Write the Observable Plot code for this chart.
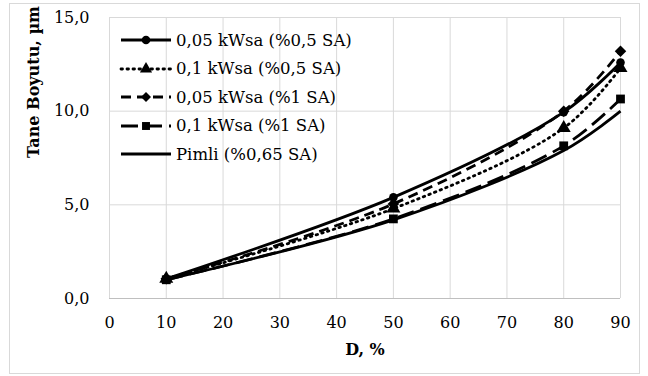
<!DOCTYPE html>
<html><head><meta charset="utf-8">
<script src="https://cdn.jsdelivr.net/npm/d3@7"></script>
<script src="https://cdn.jsdelivr.net/npm/@observablehq/plot@0.6"></script>
<style>
body{margin:0;background:#fff;}
#wrap{position:relative;width:648px;height:376px;font-family:"DejaVu Serif",serif;}
#border{position:absolute;left:9px;top:3px;width:631px;height:371px;border:1px solid #d9d9d9;box-sizing:border-box;pointer-events:none;}
#legend{position:absolute;left:118px;top:26px;font-size:16.5px;color:#000;}
#legend .row{display:flex;align-items:center;height:28.5px;}
#legend svg{width:56px;height:20px;margin-right:2px;}
</style></head>
<body><div id="wrap"><div id="border"></div><div id="legend"></div></div>
<script>
const dValues = [10, 50, 80, 90];
const seriesNames = ["0,05 kWsa (%0,5 SA)", "0,1 kWsa (%0,5 SA)", "0,05 kWsa (%1 SA)", "0,1 kWsa (%1 SA)", "Pimli (%0,65 SA)"];
const s1 = [1.05, 5.4, 9.95, 12.6];
const s2 = [1.05, 4.8, 9.1, 12.3];
const s3 = [1.05, 5.05, 10.0, 13.2];
const s4 = [1.0, 4.25, 8.15, 10.65];
const s5 = [1.0, 4.2, 7.9, 10.0];
const xTicks = [0,10,20,30,40,50,60,70,80,90];
const yTicks = [0,5,10,15];

const seriesVals = [s1,s2,s3,s4,s5];
const dashes = [null, "1.5,4.5", "10,6", "17,7", null];
const symbols = ["circle","triangle","diamond2","square2", null];
const symSizes = [4.3, 5.2, 5.2, 5.6, 0];

const data = [];
seriesNames.forEach((n,i)=>dValues.forEach((d,j)=>data.push({series:n, idx:i, d, v:seriesVals[i][j]})));
const fmt = v => v.toFixed(1).replace(".", ",");

const marks = [
  Plot.gridX(xTicks.slice(1), {stroke:"#d9d9d9", strokeOpacity:1, strokeWidth:1}),
  Plot.gridY(yTicks, {stroke:"#d9d9d9", strokeOpacity:1, strokeWidth:1}),
  Plot.ruleY([0], {stroke:"#bfbfbf", strokeWidth:1}),
  Plot.ruleX([0], {stroke:"#d9d9d9", strokeWidth:1}),
];
seriesNames.forEach((n,i)=>{
  const sub = data.filter(r=>r.idx===i);
  marks.push(Plot.line(sub, {x:"d", y:"v", curve:"catmull-rom", stroke:"#000", strokeWidth:2.8, strokeDasharray: dashes[i] || undefined, strokeLinecap: i===1 ? "round" : "butt"}));
  if (symbols[i]) marks.push(Plot.dot(sub, {x:"d", y:"v", symbol:()=>symbols[i], r:symSizes[i], fill:"#000", stroke:"none"}));
});
marks.push(Plot.axisX(xTicks, {tickSize:0, tickPadding:18, fontSize:16, label:null}));
marks.push(Plot.axisY(yTicks, {tickSize:0, tickPadding:20, fontSize:16, tickFormat:fmt, label:null}));
marks.push(Plot.text(["D, %"], {frameAnchor:"bottom", dy:56, fontSize:16, fontWeight:"bold"}));
marks.push(Plot.text(["Tane Boyutu, µm"], {frameAnchor:"left", dx:-76, rotate:-90, fontSize:16, fontWeight:"bold"}));

const chart = Plot.plot({
  width:648, height:376,
  marginLeft:109, marginRight:28, marginTop:17, marginBottom:78,
  x:{domain:[0,90]}, y:{domain:[0,15]},
  style:{fontFamily:'"DejaVu Serif", serif', color:"#000", background:"transparent", overflow:"visible"},
  marks
});
document.getElementById("wrap").prepend(chart);

// legend
const leg = document.getElementById("legend");
const symPath = {circle: d3.symbol(d3.symbolCircle, Math.PI*4.3*4.3)(), triangle: d3.symbol(d3.symbolTriangle, 64)(), diamond2: d3.symbol(d3.symbolDiamond2, 64)(), square2: d3.symbol(d3.symbolSquare2, 80)()};
seriesNames.forEach((n,i)=>{
  const row = document.createElement("div"); row.className="row";
  const ns="http://www.w3.org/2000/svg";
  const svg=document.createElementNS(ns,"svg");
  const ln=document.createElementNS(ns,"line");
  ln.setAttribute("x1",3);ln.setAttribute("x2",53);ln.setAttribute("y1",10);ln.setAttribute("y2",10);
  ln.setAttribute("stroke","#000");ln.setAttribute("stroke-width",2.8);
  if(dashes[i]) ln.setAttribute("stroke-dasharray",dashes[i]);
  if(i===1) ln.setAttribute("stroke-linecap","round");
  svg.appendChild(ln);
  if(symbols[i]){const p=document.createElementNS(ns,"path");p.setAttribute("d",symPath[symbols[i]]);p.setAttribute("transform","translate(28,10)");p.setAttribute("fill","#000");svg.appendChild(p);}
  row.appendChild(svg);
  const t=document.createElement("span");t.textContent=n;row.appendChild(t);
  leg.appendChild(row);
});
</script></body></html>
